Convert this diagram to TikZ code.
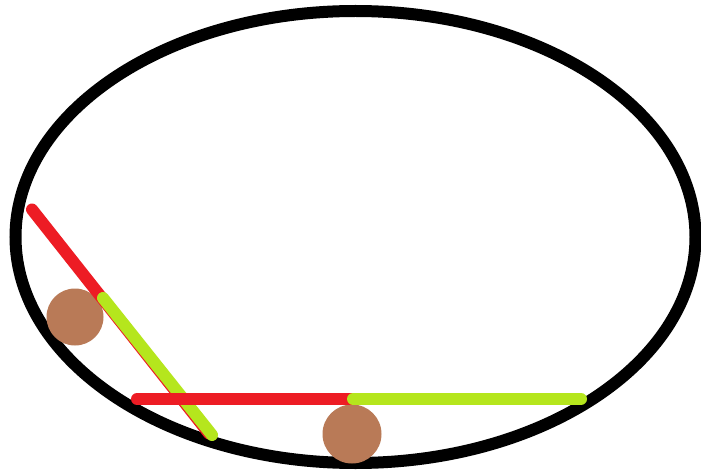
\documentclass[tikz,border=0pt]{standalone}
\definecolor{pred}{RGB}{237,28,36}
\definecolor{plime}{RGB}{181,230,29}
\definecolor{pbrown}{RGB}{185,122,87}
\begin{document}
\begin{tikzpicture}[x=1pt,y=-1pt,
  rim/.style={draw=black,line width=12pt},
  ball/.style={fill=pbrown},
  redbar/.style={draw=pred,line width=12pt,line cap=round},
  limebar/.style={draw=plime,line width=12pt,line cap=round}]
\useasboundingbox (0,0) rectangle (701,473);
\fill[white] (0,0) rectangle (701,473);
\draw[rim] (355.5,237) ellipse [x radius=340, y radius=226];
\fill[ball] (75,317) circle [radius=28.5];
\fill[ball] (352,434) circle [radius=29.5];
\coordinate (r1a) at (32,209.5);
\coordinate (r1b) at (209,433.5);
\coordinate (g1a) at (103,298);
\coordinate (g1b) at (212,435);
\coordinate (r2a) at (137,399);
\coordinate (m2) at (353,399);
\coordinate (g2b) at (581,399);
\draw[redbar] (r1a) -- (r1b);
\draw[limebar] (g1a) -- (g1b);
\draw[redbar] (r2a) -- (m2);
\draw[limebar] (m2) -- (g2b);
\end{tikzpicture}
\end{document}
